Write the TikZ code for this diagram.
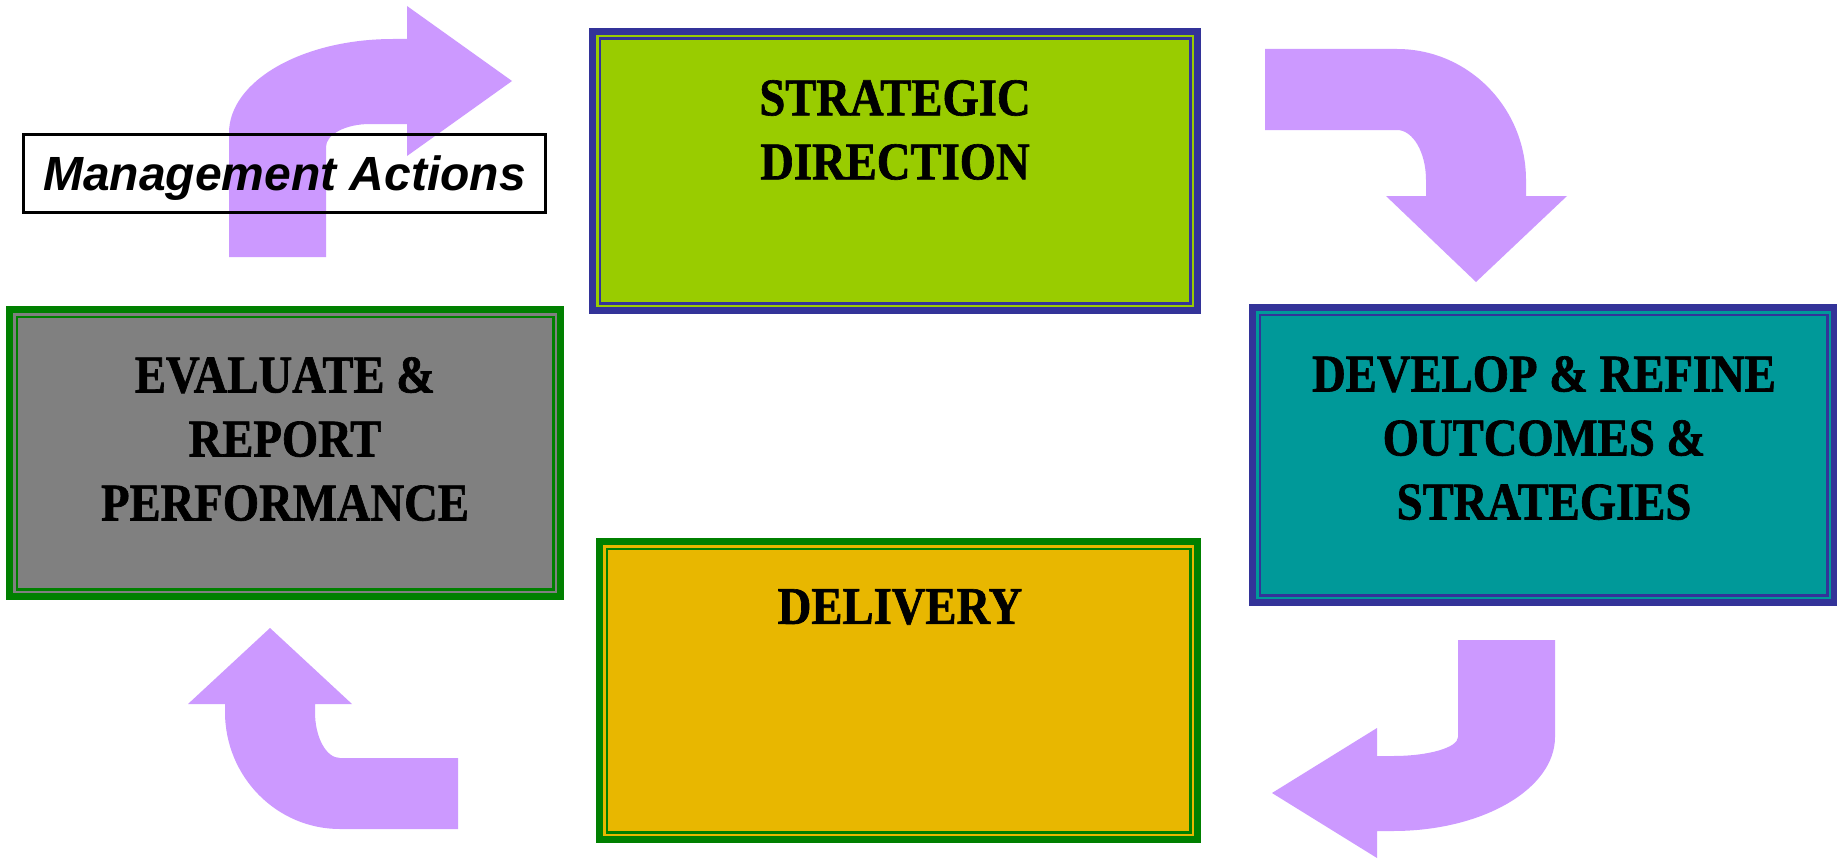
\documentclass[tikz,border=0pt]{standalone}
\usepackage{fontspec}
\newfontfamily\boxfont{Liberation Serif}[FakeStretch=0.88, BoldFeatures={FakeBold=1.2}]
\newfontfamily\mafont{Liberation Sans}
\definecolor{sdgreen}{HTML}{99CC00}
\definecolor{tealbox}{HTML}{009999}
\definecolor{navyline}{HTML}{333399}
\definecolor{graybox}{HTML}{808080}
\definecolor{greenline}{HTML}{008000}
\definecolor{goldbox}{HTML}{E8B700}
\definecolor{lilac}{HTML}{CC99FF}
\begin{document}
\begin{tikzpicture}[x=1pt,y=-1pt,
  framebox/.style={rectangle, line width=7pt, inner sep=0pt, outer sep=0pt},
  innerframe/.style={line width=2.5pt},
  boxtext/.style={font=\boxfont\bfseries\fontsize{53}{64}\selectfont, align=center, inner sep=0pt, anchor=north, text=black},
  blockarrow/.style={fill=lilac, draw=none}
]
\useasboundingbox (0,0) rectangle (1837,859);
\fill[white] (0,0) rectangle (1837,859);

% block arrows
\path[blockarrow] (229,257) -- (229,133)
  .. controls (229,81.1) and (302.4,39) .. (393,39)
  -- (407,39) -- (407,6) -- (512,81) -- (407,156) -- (407,124) -- (370,124)
  .. controls (345.7,124) and (326,134.3) .. (326,147)
  -- (326,257) -- cycle;

\path[blockarrow] (1265,49) -- (1397,49)
  .. controls (1468.2,49) and (1526,107.6) .. (1526,180)
  -- (1526,196) -- (1567,196) -- (1476,282) -- (1386,196) -- (1426,196) -- (1426,180)
  .. controls (1426,152.4) and (1413,130) .. (1397,130)
  -- (1265,130) -- cycle;

\path[blockarrow] (1458,640) -- (1555,640) -- (1555,737)
  .. controls (1555,788.9) and (1482.5,831) .. (1393,831)
  -- (1377,831) -- (1377,858) -- (1272,793) -- (1377,728) -- (1377,756) -- (1393,756)
  .. controls (1428.9,756) and (1458,747.5) .. (1458,737) -- cycle;

\path[blockarrow] (458,829) -- (340,829)
  .. controls (276.5,829) and (225,776.6) .. (225,712)
  -- (225,704) -- (188,704) -- (270,628) -- (352,704) -- (315,704) -- (315,712)
  .. controls (315,737.4) and (326.2,758) .. (340,758)
  -- (458,758) -- cycle;

% boxes
\node[framebox, draw=navyline, fill=sdgreen, minimum width=605pt, minimum height=279pt] (sd) at (895,171) {};
\draw[innerframe, navyline] ([shift={(7.25,7.25)}]sd.north west) rectangle ([shift={(-7.25,-7.25)}]sd.south east);
\node[boxtext] (sdt) at (895,80) {STRATEGIC\\DIRECTION};

\node[framebox, draw=navyline, fill=tealbox, minimum width=582pt, minimum height=295pt] (dev) at (1543.5,455) {};
\draw[innerframe, navyline] ([shift={(7.25,7.25)}]dev.north west) rectangle ([shift={(-7.25,-7.25)}]dev.south east);
\node[boxtext] (devt) at (1544,356) {DEVELOP \& REFINE\\OUTCOMES \&\\STRATEGIES};

\node[framebox, draw=greenline, fill=graybox, minimum width=551pt, minimum height=287pt] (ev) at (285,453) {};
\draw[innerframe, greenline] ([shift={(7.25,7.25)}]ev.north west) rectangle ([shift={(-7.25,-7.25)}]ev.south east);
\node[boxtext] (evt) at (285,357) {EVALUATE \&\\REPORT\\PERFORMANCE};

\node[framebox, draw=greenline, fill=goldbox, minimum width=598pt, minimum height=298pt] (del) at (898.5,690.5) {};
\draw[innerframe, greenline] ([shift={(7.25,7.25)}]del.north west) rectangle ([shift={(-7.25,-7.25)}]del.south east);
\node[boxtext] (delt) at (900,589) {DELIVERY};

% management actions label
\node[draw=black, line width=2.7pt, inner sep=0pt, minimum width=522pt, minimum height=78pt,
  text height=34pt, text depth=1pt,
  font=\mafont\bfseries\itshape\fontsize{48}{56}\selectfont] (ma) at (284.5,173.5) {Management Actions};
\end{tikzpicture}
\end{document}
